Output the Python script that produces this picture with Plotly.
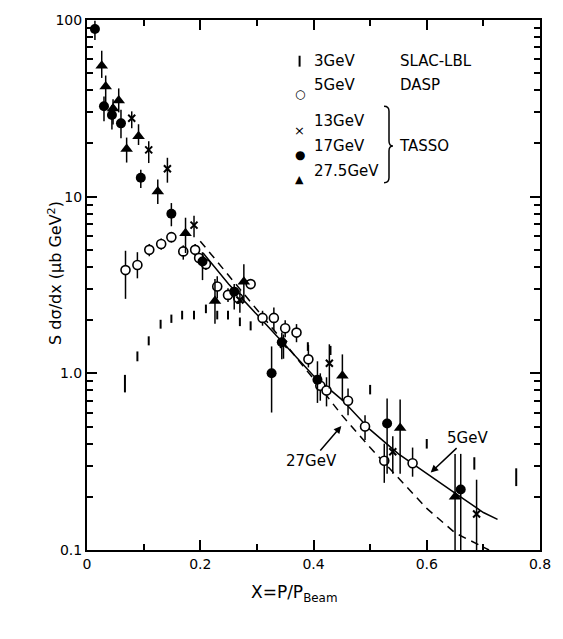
import plotly.graph_objects as go

# ---------------- data ----------------
# 3 GeV SLAC-LBL (bars only)
x3 = [0.067, 0.089, 0.109, 0.13, 0.149, 0.168, 0.189, 0.21, 0.23, 0.249, 0.27, 0.289, 0.39, 0.43, 0.50, 0.60, 0.684, 0.758]
y3 = [0.88, 1.25, 1.53, 1.9, 2.04, 2.14, 2.14, 2.32, 2.14, 2.14, 1.96, 1.86, 1.42, 1.35, 0.81, 0.40, 0.31, 0.26]
e3 = [0.10, 0.08, 0.09, 0.11, 0.11, 0.12, 0.12, 0.13, 0.12, 0.12, 0.11, 0.11, 0.08, 0.08, 0.05, 0.025, 0.025, 0.03]

# 5 GeV DASP (open circles)
x5 = [0.068, 0.089, 0.11, 0.131, 0.149, 0.17, 0.191, 0.198, 0.21, 0.23, 0.249, 0.267, 0.289, 0.31,
      0.33, 0.35, 0.37, 0.391, 0.412, 0.423, 0.461, 0.491, 0.525, 0.575]
y5 = [3.84, 4.1, 5.0, 5.4, 5.9, 4.9, 5.0, 4.5, 4.15, 3.1, 2.78, 2.67, 3.2, 2.06,
      2.06, 1.8, 1.7, 1.2, 0.85, 0.8, 0.70, 0.50, 0.32, 0.31]
e5p = [1.1, 0.75, 0.4, 0.4, 0.4, 0.4, 0.4, 0.3, 0.3, 0.45, 0.25, 0.2, 0.2, 0.2,
       0.3, 0.2, 0.2, 0.25, 0.15, 0.15, 0.12, 0.08, 0.08, 0.07]
e5m = [1.2, 0.65, 0.4, 0.4, 0.4, 0.5, 0.4, 0.3, 0.3, 0.45, 0.25, 0.2, 0.2, 0.2,
       0.3, 0.2, 0.2, 0.12, 0.15, 0.15, 0.12, 0.08, 0.08, 0.05]

# 13 GeV TASSO (crosses)
x13 = [0.079, 0.109, 0.142, 0.189, 0.27, 0.347, 0.428, 0.54, 0.688]
y13 = [27.8, 18.4, 14.4, 6.9, 2.6, 1.46, 1.14, 0.36, 0.16]
e13p = [2.6, 2.2, 2.2, 0.9, 0.35, 0.2, 0.32, 0.08, 0.09]
e13m = [3.4, 2.9, 2.4, 1.0, 0.4, 0.25, 0.32, 0.09, 0.08]

# 17 GeV TASSO (filled circles)
x17 = [0.014, 0.030, 0.044, 0.060, 0.095, 0.149, 0.204, 0.26, 0.326, 0.344, 0.407, 0.53, 0.66]
y17 = [89, 32.5, 29, 26, 12.8, 8.0, 4.3, 2.9, 1.0, 1.5, 0.92, 0.52, 0.22]
e17p = [10, 4.4, 4, 5, 1.4, 1.2, 0.55, 0.3, 0.42, 0.2, 0.25, 0.2, 0.13]
e17m = [12, 5.8, 5, 4.6, 1.6, 1.2, 0.93, 0.6, 0.4, 0.3, 0.24, 0.25, 0.12]

# 27.5 GeV TASSO (filled triangles)
x27p = [0.026, 0.033, 0.046, 0.056, 0.070, 0.091, 0.125, 0.174, 0.226, 0.277, 0.451, 0.553, 0.65]
y27p = [55, 42, 31.6, 35, 18.6, 22, 10.7, 6.2, 2.57, 3.3, 0.97, 0.49, 0.2]
e27pp = [12, 6.5, 4, 6, 3, 3.7, 1.8, 1.4, 0.85, 0.85, 0.31, 0.22, 0.15]
e27pm = [8, 8, 6, 5, 3, 2.4, 1.6, 1.4, 0.66, 0.8, 0.27, 0.22, 0.13]

# model curves
xc5 = [0.205, 0.25, 0.3, 0.35, 0.4, 0.45, 0.5, 0.55, 0.6, 0.65, 0.7, 0.725]
yc5 = [4.8, 3.2, 2.15, 1.45, 0.97, 0.71, 0.48, 0.35, 0.27, 0.21, 0.163, 0.149]
xc27 = [0.2, 0.25, 0.3, 0.35, 0.4, 0.45, 0.5, 0.55, 0.6, 0.65, 0.7, 0.71]
yc27 = [5.6, 3.6, 2.3, 1.47, 0.93, 0.58, 0.38, 0.255, 0.172, 0.125, 0.103, 0.1]

xtickvals = [0, 0.2, 0.4, 0.6, 0.8]
xticktext = ["0", "0.2", "0.4", "0.6", "0.8"]
ytickvals = [0.1, 1, 10, 100]
yticktext = ["0.1", "1.0", "10", "100"]

FONT = "DejaVu Sans"
W, H = 563, 639
L, R, T, B = 87, 20, 16, 89


def px(x):
    return (x - L) / (W - L - R)


def py(y):
    return (H - B - y) / (H - T - B)


fig = go.Figure()

fig.add_trace(go.Scatter(x=xc5, y=yc5, mode="lines", line=dict(color="black", width=1.5), hoverinfo="skip"))
fig.add_trace(go.Scatter(x=xc27, y=yc27, mode="lines", line=dict(color="black", width=1.5, dash="8px,6px"), hoverinfo="skip"))


def err(p, m):
    return dict(type="data", symmetric=False, array=p, arrayminus=m, color="black", thickness=1.5, width=0)


fig.add_trace(go.Scatter(x=x3, y=y3, mode="markers", marker=dict(size=1, color="black", opacity=0),
                         error_y=dict(type="data", array=e3, color="black", thickness=2, width=0)))
fig.add_trace(go.Scatter(x=x5, y=y5, mode="markers",
                         marker=dict(symbol="circle", size=9, color="white", line=dict(color="black", width=1.6)),
                         error_y=err(e5p, e5m)))
fig.add_trace(go.Scatter(x=x13, y=y13, mode="markers", cliponaxis=False,
                         marker=dict(symbol="x-thin", size=7, color="black", line=dict(color="black", width=2)),
                         error_y=err(e13p, e13m)))
fig.add_trace(go.Scatter(x=x17, y=y17, mode="markers", cliponaxis=False,
                         marker=dict(symbol="circle", size=10, color="black"),
                         error_y=err(e17p, e17m)))
fig.add_trace(go.Scatter(x=x27p, y=y27p, mode="markers", cliponaxis=False,
                         marker=dict(symbol="triangle-up", size=11, color="black"),
                         error_y=err(e27pp, e27pm)))

ann = []
shapes = []

# axis titles
ann.append(dict(x=px(42), y=py(271), xref="paper", yref="paper", text="S dσ/dx (μb GeV<sup>2</sup>)",
                textangle=-90, showarrow=False, font=dict(family=FONT, size=16, color="black")))
ann.append(dict(x=px(295), y=py(607), xref="paper", yref="paper", text="X=P/P<sub>Beam</sub>",
                showarrow=False, font=dict(family=FONT, size=17, color="black")))

# legend
lf = dict(family=FONT, size=15, color="black")
rows = [(57, "3GeV", "SLAC-LBL"), (81, "5GeV", "DASP"), (118, "13GeV", None), (143, "17GeV", "TASSO"), (168, "27.5GeV", None)]
for yy, t1, t2 in rows:
    ann.append(dict(x=px(313), y=py(yy), xref="paper", yref="paper", text=t1, showarrow=False,
                    xanchor="left", yanchor="middle", font=lf))
    if t2:
        ann.append(dict(x=px(400 if t2 != "TASSO" else 399), y=py(yy), xref="paper", yref="paper", text=t2,
                        showarrow=False, xanchor="left", yanchor="middle", font=lf))
# legend glyphs
shapes.append(dict(type="line", xref="paper", yref="paper", x0=px(301), x1=px(301), y0=py(52), y1=py(63),
                   line=dict(color="black", width=2)))
ann.append(dict(x=px(301), y=py(81), xref="paper", yref="paper", text="○", showarrow=False,
                font=dict(family=FONT, size=12, color="black")))
ann.append(dict(x=px(301), y=py(118), xref="paper", yref="paper", text="×", showarrow=False,
                font=dict(family=FONT, size=13, color="black")))
ann.append(dict(x=px(301), y=py(143), xref="paper", yref="paper", text="●", showarrow=False,
                font=dict(family=FONT, size=12, color="black")))
ann.append(dict(x=px(301), y=py(168), xref="paper", yref="paper", text="▲", showarrow=False,
                font=dict(family=FONT, size=11, color="black")))

# bracket
pth = (f"M {px(386)},{py(103)} Q {px(391)},{py(103)} {px(391)},{py(108)} "
       f"L {px(391)},{py(138)} Q {px(391)},{py(143)} {px(395)},{py(143)} "
       f"Q {px(391)},{py(143)} {px(391)},{py(148)} L {px(391)},{py(175)} "
       f"Q {px(391)},{py(180)} {px(386)},{py(180)}")
shapes.append(dict(type="path", xref="paper", yref="paper", path=pth, line=dict(color="black", width=1.5)))

# curve labels
ann.append(dict(x=px(343), y=py(425), xref="paper", yref="paper", text="27GeV", showarrow=True,
                ax=-30, ay=35, arrowhead=2, arrowsize=1, arrowwidth=1.5, arrowcolor="black",
                font=dict(family=FONT, size=15, color="black")))
ann.append(dict(x=px(433), y=py(472), xref="paper", yref="paper", text="5GeV", showarrow=True,
                ax=37, ay=-35, arrowhead=2, arrowsize=1, arrowwidth=1.5, arrowcolor="black",
                font=dict(family=FONT, size=15, color="black")))

axis_common = dict(showline=True, linewidth=2, linecolor="black", mirror="allticks", ticks="inside",
                   tickwidth=1.5, tickcolor="black", showgrid=False, zeroline=False,
                   tickfont=dict(family=FONT, size=14, color="black"))

fig.update_layout(
    width=W, height=H, margin=dict(l=L, r=R, t=T, b=B, pad=0),
    paper_bgcolor="white", plot_bgcolor="white", showlegend=False,
    xaxis=dict(range=[0, 0.8], tickvals=xtickvals, ticktext=xticktext, ticklen=10,
               minor=dict(dtick=0.1, ticks="inside", ticklen=6, tickwidth=1.5, tickcolor="black", showgrid=False),
               **axis_common),
    yaxis=dict(type="log", range=[-1, 2], tickvals=ytickvals, ticktext=yticktext, ticklen=10,
               minor=dict(dtick="D1", ticks="inside", ticklen=6, tickwidth=1.5, tickcolor="black", showgrid=False),
               **axis_common),
    annotations=ann, shapes=shapes,
)

fig.write_html("out.html")
